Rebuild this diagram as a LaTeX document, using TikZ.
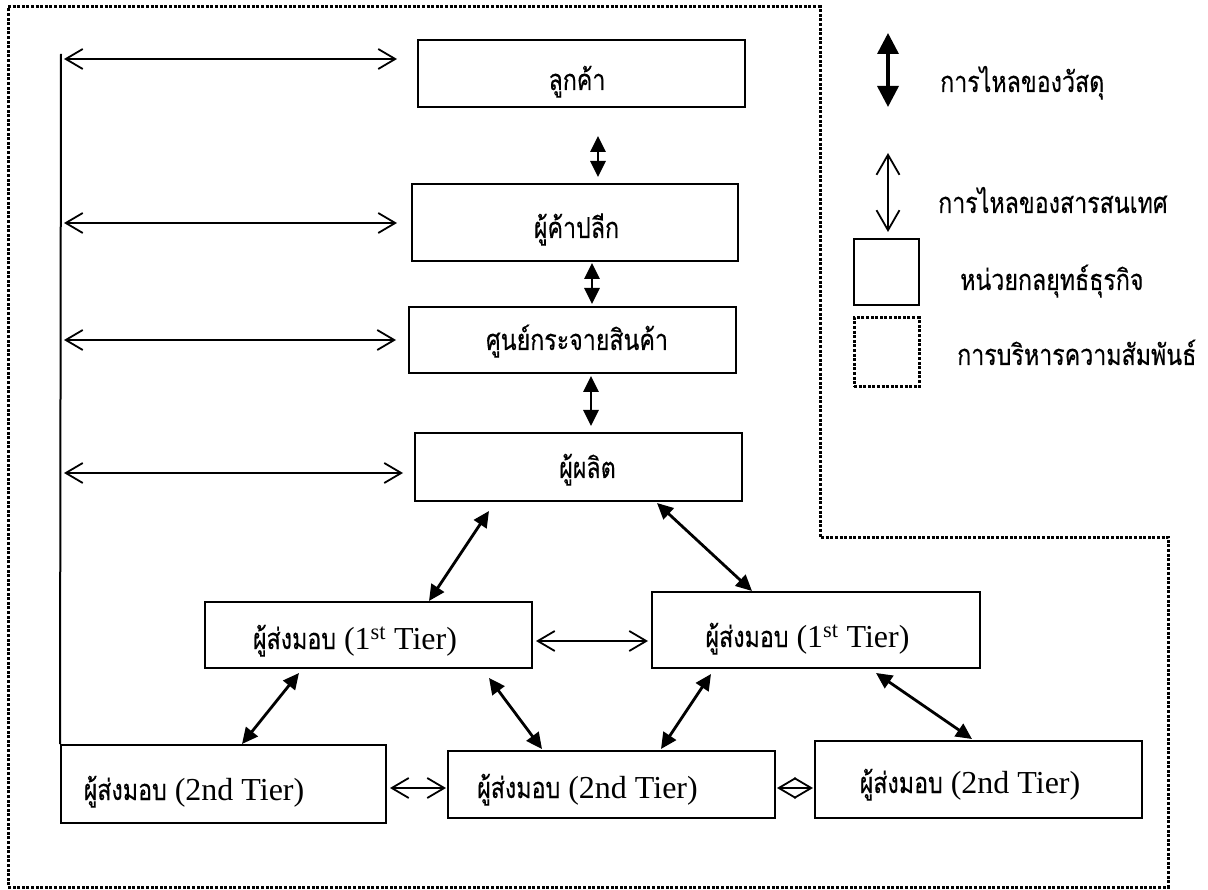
\documentclass[tikz,border=0pt]{standalone}
\usepackage{fontspec}
\setmainfont{Liberation Serif}
\newfontfamily\thaifont[Script=Thai,FakeStretch=0.8,FakeBold=0.3]{Loma}
\usetikzlibrary{arrows.meta}
% Thai words are set in a narrowed Loma at a size matching the Latin text
\newcommand\thaitxt[1]{{\fontsize{29}{34}\thaifont #1}}
\begin{document}
\begin{tikzpicture}[x=1pt,y=-1pt,
  unit/.style={draw, line width=2pt, inner sep=0pt, minimum width=327pt},
  lbl/.style={inner sep=0pt, anchor=base, font=\fontsize{32}{36}\selectfont},
  leglbl/.style={lbl, anchor=base west},
  info/.style={line width=1.8pt,
    {Straight Barb[length=17pt,width=20pt]}-{Straight Barb[length=17pt,width=20pt]}},
  flow/.style={line width=2.8pt,
    {Triangle[length=16pt,width=15pt]}-{Triangle[length=16pt,width=15pt]}},
  flowbig/.style={line width=3.5pt,
    {Triangle[length=21pt,width=21pt]}-{Triangle[length=21pt,width=21pt]}},
  rel/.style={line width=3pt, dash pattern=on 3pt off 1.6pt},
  link/.style={line width=2pt}]
\useasboundingbox (0,0) rectangle (1208,890);

% relationship-management boundary
\draw[rel] (8,7) -- (820,7) -- (820,537) -- (1168,537) -- (1168,887) -- (8,887) -- cycle;

% strategic business units
\node[unit, minimum height=67pt] (cust) at (581.5,73.5) {};
\node[unit, minimum width=326pt, minimum height=77pt] (ret) at (575,222.5) {};
\node[unit, minimum height=66pt] (dc) at (572.5,340) {};
\node[unit, minimum height=68pt] (mfr) at (578.5,467) {};
\node[unit, minimum height=66pt] (s1a) at (368.5,635) {};
\node[unit, minimum width=328pt, minimum height=76pt] (s1b) at (816,630) {};
\node[unit, minimum width=325pt, minimum height=78pt] (s2a) at (223.5,784) {};
\node[unit, minimum height=67pt] (s2b) at (611.5,784.5) {};
\node[unit, minimum height=77pt] (s2c) at (978.5,779.5) {};

% box texts
\node[lbl] (tcust) at (577,90) {\thaitxt{ลูกค้า}};
\node[lbl] (tret) at (576.5,238) {\thaitxt{ผู้ค้าปลีก}};
\node[lbl] (tdc) at (577,350) {\thaitxt{ศูนย์กระจายสินค้า}};
\node[lbl] (tmfr) at (587.5,478) {\thaitxt{ผู้ผลิต}};
\node[lbl] (ts1a) at (355,649) {\thaitxt{ผู้ส่งมอบ} (1\textsuperscript{st} Tier)};
\node[lbl] (ts1b) at (807.5,647) {\thaitxt{ผู้ส่งมอบ} (1\textsuperscript{st} Tier)};
\node[lbl] (ts2a) at (194,800) {\thaitxt{ผู้ส่งมอบ} (2nd Tier)};
\node[lbl] (ts2b) at (587.5,798) {\thaitxt{ผู้ส่งมอบ} (2nd Tier)};
\node[lbl] (ts2c) at (970,793) {\thaitxt{ผู้ส่งมอบ} (2nd Tier)};

% information flows from the left-hand rail
\coordinate (rail) at (61,54);
\draw[link] (rail) -- (s2a.north west);
\coordinate (r1) at (64,59);
\coordinate (r2) at (64,223);
\coordinate (r3) at (64,340);
\coordinate (r4) at (64,473);
\draw[info, shorten >=20pt] (r1) -- (r1 -| cust.west);
\draw[info, shorten >=14pt] (r2) -- (r2 -| ret.west);
\draw[info, shorten >=12pt] (r3) -- (r3 -| dc.west);
\draw[info, shorten >=11pt] (r4) -- (r4 -| mfr.west);

% information flows between suppliers
\draw[info] ([shift={(3,40)}]s1a.north east) -- ([shift={(-3,50)}]s1b.north west);
\draw[info] ([shift={(3,44)}]s2a.north east) -- ([shift={(-1,38)}]s2b.north west);
\draw[info] ([shift={(1,38)}]s2b.north east) -- ([shift={(-1,48)}]s2c.north west);

% material flows
\draw[flow] ([shift={(181,28)}]cust.south west) -- ([shift={(187,-6)}]ret.north west);
\draw[flow] ([shift={(181,1)}]ret.south west) -- ([shift={(184,-2)}]dc.north west);
\draw[flow] ([shift={(183,2)}]dc.south west) -- ([shift={(177,-6)}]mfr.north west);
\draw[flow] ([shift={(75,9)}]mfr.south west) -- ([shift={(225,0)}]s1a.north west);
\draw[flow] ([shift={(243,1)}]mfr.south west) -- ([shift={(101,0)}]s1b.north west);
\draw[flow] ([shift={(95,4)}]s1a.south west) -- ([shift={(182,0)}]s2a.north west);
\draw[flow] ([shift={(285,9)}]s1a.south west) -- ([shift={(95,-1)}]s2b.north west);
\draw[flow] ([shift={(60,5)}]s1b.south west) -- ([shift={(214,-1)}]s2b.north west);
\draw[flow] ([shift={(225,4)}]s1b.south west) -- ([shift={(158,-1)}]s2c.north west);

% legend
\coordinate (lm1) at (888,33);
\coordinate (lm2) at (888,107);
\draw[flowbig] (lm1) -- (lm2);
\coordinate (li1) at (888,153);
\coordinate (li2) at (888,232);
\draw[info, {Straight Barb[length=20pt,width=23pt]}-{Straight Barb[length=20pt,width=23pt]}] (li1) -- (li2);
\node[draw, line width=2pt, minimum width=65pt, minimum height=66pt, inner sep=0pt] (legunit) at (886.5,272) {};
\node[rel, draw, minimum width=65pt, minimum height=69pt, inner sep=0pt] (legrel) at (886.5,352.5) {};
\node[leglbl] (tl1) at (940,92) {\thaitxt{การไหลของวัสดุ}};
\node[leglbl] (tl2) at (938,213) {\thaitxt{การไหลของสารสนเทศ}};
\node[leglbl] (tl3) at (960,290) {\thaitxt{หน่วยกลยุทธ์ธุรกิจ}};
\node[leglbl] (tl4) at (957,365) {\thaitxt{การบริหารความสัมพันธ์}};
\end{tikzpicture}
\end{document}
